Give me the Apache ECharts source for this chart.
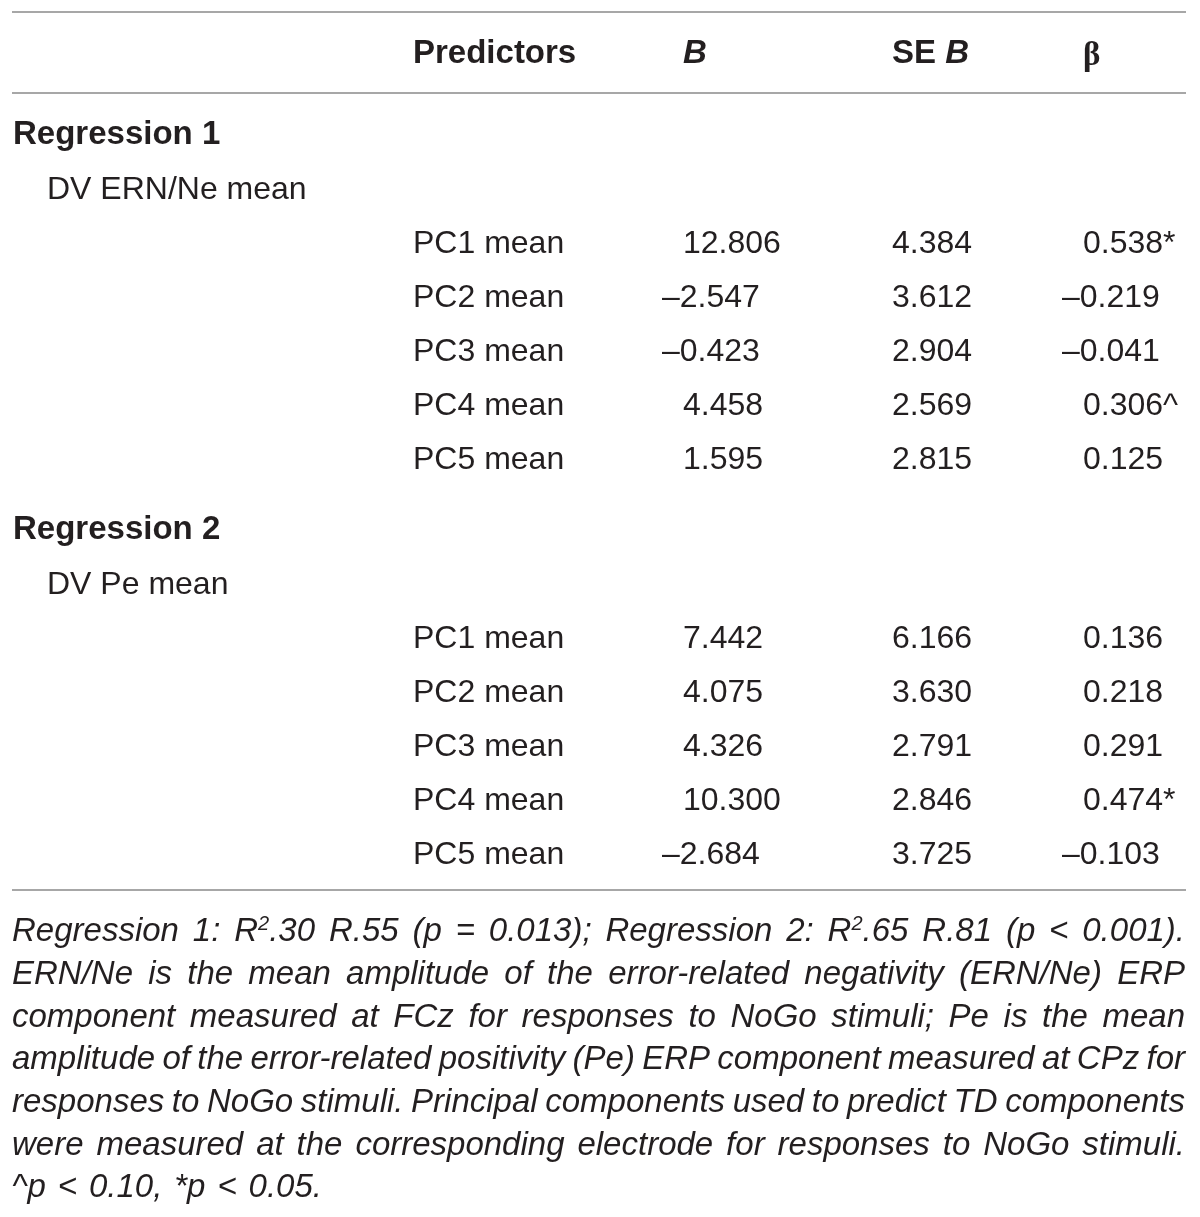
<!DOCTYPE html>
<html>
<head>
<meta charset="utf-8">
<title>Regression table</title>
<script src="https://cdn.jsdelivr.net/npm/echarts@6/dist/echarts.min.js"></script>
<style>
  html, body { margin: 0; padding: 0; background: #fff; }
  #table { width: 1200px; height: 1217px; }
</style>
</head>
<body>
<div id="table"></div>
<script>
// table values
var columns = ['Predictors', 'B', 'SE B', 'β'];
var groups = ['Regression 1', 'Regression 2'];
var outcomes = ['DV ERN/Ne mean', 'DV Pe mean'];
var predictors = ['PC1 mean', 'PC2 mean', 'PC3 mean', 'PC4 mean', 'PC5 mean'];

var reg1B = [12.806, -2.547, -0.423, 4.458, 1.595];
var reg1SE = [4.384, 3.612, 2.904, 2.569, 2.815];
var reg1Beta = [0.538, -0.219, -0.041, 0.306, 0.125];
var reg1Sig = ['*', '', '', '^', ''];

var reg2B = [7.442, 4.075, 4.326, 10.300, -2.684];
var reg2SE = [6.166, 3.630, 2.791, 2.846, 3.725];
var reg2Beta = [0.136, 0.218, 0.291, 0.474, -0.103];
var reg2Sig = ['', '', '', '*', ''];

// footnote lines, ~x~ marks a superscript
var noteLines = [
  'Regression 1: R~2~.30 R.55 (p = 0.013); Regression 2: R~2~.65 R.81 (p < 0.001).',
  'ERN/Ne is the mean amplitude of the error-related negativity (ERN/Ne) ERP',
  'component measured at FCz for responses to NoGo stimuli; Pe is the mean',
  'amplitude of the error-related positivity (Pe) ERP component measured at CPz for',
  'responses to NoGo stimuli. Principal components used to predict TD components',
  'were measured at the corresponding electrode for responses to NoGo stimuli.',
  '^p < 0.10, *p < 0.05.'
];

var FONT = '"Liberation Sans", Arial, sans-serif';
var INK = '#231f20';
var RULE = '#a7a7a7';
var fs = 32;
var boldFs = 33;
var noteFs = 33;
var supFs = 20;

var chart = echarts.init(document.getElementById('table'));
var els = [];

function fmt(v) {
  var s = Math.abs(v).toFixed(3);
  return v < 0 ? '\u2013' + s : s;
}

function txt(x, y, text, extra) {
  var st = { x: x, y: y, text: text, fill: INK, fontFamily: FONT, fontSize: fs,
    align: 'left', verticalAlign: 'middle' };
  for (var k in extra) st[k] = extra[k];
  els.push({ type: 'text', style: st, silent: true });
}

function rule(y) {
  els.push({ type: 'line', shape: { x1: 12, y1: y, x2: 1186, y2: y },
    style: { stroke: RULE, lineWidth: 2 }, silent: true });
}

// column left edges
var colX = [413, 683, 892, 1083];
var negShift = 21;

rule(12);
rule(93);
rule(890);

// header
txt(colX[0], 54, columns[0], { fontWeight: 'bold', fontSize: boldFs });
txt(colX[1], 54, columns[1], { fontWeight: 'bold', fontStyle: 'italic', fontSize: boldFs });
txt(colX[2], 54, '{a|SE }{b|B}', {
  rich: {
    a: { fontFamily: FONT, fontSize: boldFs, fontWeight: 'bold', fill: INK },
    b: { fontFamily: FONT, fontSize: boldFs, fontWeight: 'bold', fontStyle: 'italic', fill: INK }
  }
});
txt(colX[3], 56, columns[3], { fontWeight: 'bold', fontSize: boldFs, fontFamily: '"Liberation Serif", serif' });

var data = [
  { B: reg1B, SE: reg1SE, beta: reg1Beta, sig: reg1Sig },
  { B: reg2B, SE: reg2SE, beta: reg2Beta, sig: reg2Sig }
];

data.forEach(function (d, g) {
  var top = 135 + g * 395;
  txt(13, top, groups[g], { fontWeight: 'bold', fontSize: boldFs });
  txt(47, top + 55, outcomes[g]);
  predictors.forEach(function (p, i) {
    var y = top + 109 + i * 54;
    txt(colX[0], y, p);
    txt(colX[1] - (d.B[i] < 0 ? negShift : 0), y, fmt(d.B[i]));
    txt(colX[2], y, fmt(d.SE[i]));
    txt(colX[3] - (d.beta[i] < 0 ? negShift : 0), y, fmt(d.beta[i]) + d.sig[i]);
  });
});

// footnote, justified word by word
var ctx = document.createElement('canvas').getContext('2d');
function segs(word) {
  var parts = word.split('~');
  return parts.map(function (t, i) { return { t: t, sup: i % 2 === 1 }; })
    .filter(function (s) { return s.t.length; });
}
function wordWidth(word) {
  return segs(word).reduce(function (w, s) {
    ctx.font = 'italic ' + (s.sup ? supFs : noteFs) + 'px ' + FONT;
    return w + ctx.measureText(s.t).width;
  }, 0);
}

var noteLeft = 12, noteRight = 1185, noteTop = 932, noteStep = 42.7;
noteLines.forEach(function (line, li) {
  var words = line.split(' ');
  var widths = words.map(wordWidth);
  var total = widths.reduce(function (a, b) { return a + b; }, 0);
  ctx.font = 'italic ' + noteFs + 'px ' + FONT;
  var space = ctx.measureText(' ').width;
  var last = li === noteLines.length - 1;
  var gap = last ? space * 1.3 : (noteRight - noteLeft - total) / (words.length - 1);
  var x = noteLeft;
  var y = noteTop + li * noteStep;
  words.forEach(function (w, wi) {
    var sg = segs(w);
    if (sg.length > 1) {
      var rt = sg.map(function (s) { return '{' + (s.sup ? 's' : 'n') + '|' + s.t + '}'; }).join('');
      txt(x, y, rt, {
        fontStyle: 'italic', fontSize: noteFs,
        rich: {
          n: { fontFamily: FONT, fontSize: noteFs, fontStyle: 'italic', fill: INK, lineHeight: 36 },
          s: { fontFamily: FONT, fontSize: supFs, fontStyle: 'italic', fill: INK, verticalAlign: 'top', lineHeight: 36 }
        }
      });
    } else {
      txt(x, y, w, { fontStyle: 'italic', fontSize: noteFs });
    }
    x += widths[wi] + gap;
  });
});

chart.setOption({
  backgroundColor: '#fff',
  animation: false,
  graphic: { elements: els }
});
</script>
</body>
</html>
